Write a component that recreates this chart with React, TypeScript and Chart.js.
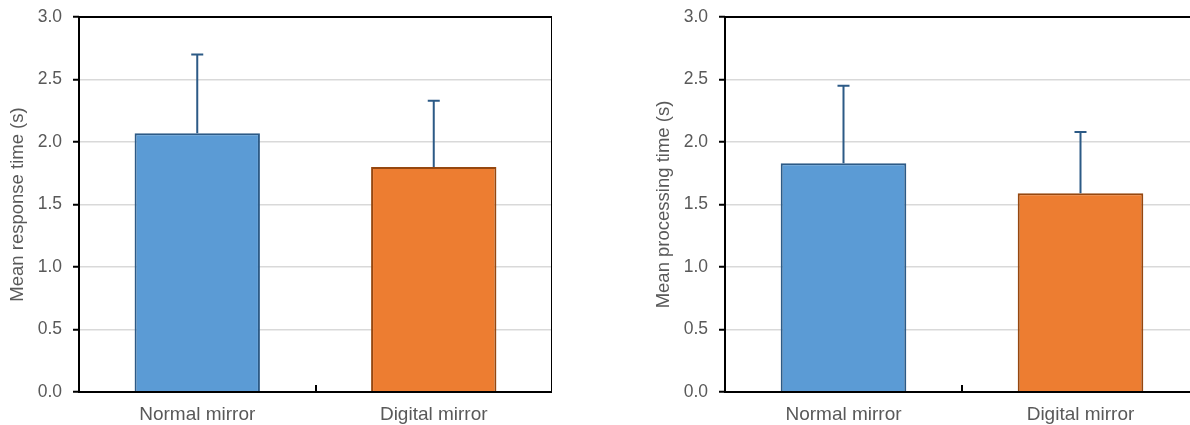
import React, { useEffect, useRef } from 'react';
import { Chart, registerables } from 'chart.js';

Chart.register(...registerables);

const categories = ['Normal mirror', 'Digital mirror'];
const responseMeans = [2.07, 1.8];
const responseErrors = [0.63, 0.53];
const processingMeans = [1.83, 1.59];
const processingErrors = [0.62, 0.49];
const yMin = 0;
const yMax = 3;
const yStep = 0.5;
const barColors = ['#5b9bd5', '#ed7d31'];
const barBorders = ['#2c5a86', '#96470f'];
const errorColor = '#2c5a86';
const textColor = '#595959';
const fontFamily = '"Liberation Sans", Arial, Helvetica, sans-serif';

const errorBarPlugin = {
  id: 'errorBars',
  afterDatasetsDraw(chart: any) {
    const errs: number[] = chart.options.plugins.errorBars?.errors || [];
    const meta = chart.getDatasetMeta(0);
    const ys = chart.scales.y;
    const ctx = chart.ctx;
    ctx.save();
    ctx.strokeStyle = errorColor;
    ctx.lineWidth = 2;
    meta.data.forEach((el: any, i: number) => {
      const v = chart.data.datasets[0].data[i] as number;
      const top = ys.getPixelForValue(v + errs[i]);
      const base = ys.getPixelForValue(v);
      ctx.beginPath();
      ctx.moveTo(el.x, base);
      ctx.lineTo(el.x, top);
      ctx.moveTo(el.x - 6, top);
      ctx.lineTo(el.x + 6, top);
      ctx.stroke();
    });
    ctx.restore();
  },
};

const framePlugin = {
  id: 'frame',
  afterDraw(chart: any) {
    const { ctx, chartArea } = chart;
    const meta = chart.getDatasetMeta(0);
    ctx.save();
    ctx.strokeStyle = '#000';
    ctx.lineWidth = 2;
    ctx.strokeRect(chartArea.left, chartArea.top, chartArea.right - chartArea.left, chartArea.bottom - chartArea.top);
    ctx.beginPath();
    for (let i = 0; i < meta.data.length - 1; i++) {
      const x = Math.round((meta.data[i].x + meta.data[i + 1].x) / 2);
      ctx.moveTo(x, chartArea.bottom);
      ctx.lineTo(x, chartArea.bottom - 7);
    }
    ctx.stroke();
    ctx.restore();
  },
};

function Panel(props: { means: number[]; errors: number[]; title: string; left: number; width: number }) {
  const ref = useRef<HTMLCanvasElement>(null);
  useEffect(() => {
    if (!ref.current) return;
    const chart = new Chart(ref.current, {
      type: 'bar',
      data: {
        labels: categories,
        datasets: [
          {
            data: props.means,
            backgroundColor: barColors,
            borderColor: barBorders,
            borderWidth: 2,
            categoryPercentage: 1,
            barPercentage: 0.53,
          },
        ],
      },
      options: {
        animation: false,
        responsive: false,
        maintainAspectRatio: false,
        layout: { padding: { top: 17, left: 0, right: 0, bottom: 0 } },
        plugins: {
          legend: { display: false },
          tooltip: { enabled: false },
          errorBars: { errors: props.errors },
        } as any,
        scales: {
          x: {
            grid: { display: false, drawTicks: false },
            border: { display: false },
            ticks: { color: textColor, font: { family: fontFamily, size: 19 }, padding: 11 },
            afterFit: (axis: any) => {
              axis.height = 33;
              axis.paddingLeft = 0;
              axis.paddingRight = 0;
            },
          },
          y: {
            min: yMin,
            max: yMax,
            grid: { color: '#d9d9d9', lineWidth: 1.5, tickColor: '#000', tickWidth: 2, tickLength: 6 },
            border: { display: false },
            ticks: {
              stepSize: yStep,
              color: textColor,
              font: { family: fontFamily, size: 17.5 },
              padding: 11,
              callback: (v: any) => Number(v).toFixed(1),
            },
            title: {
              display: true,
              text: props.title,
              color: textColor,
              font: { family: fontFamily, size: 18.5 },
              padding: { top: 7, bottom: 0 },
            },
            afterFit: (axis: any) => {
              axis.width = 79;
              axis.paddingTop = 0;
              axis.paddingBottom = 0;
            },
          },
        },
      },
      plugins: [errorBarPlugin, framePlugin],
    });
    return () => chart.destroy();
  }, []);
  return (
    <canvas
      ref={ref}
      width={props.width}
      height={425}
      style={{ position: 'absolute', left: props.left, top: 0, width: props.width, height: 425, display: 'block' }}
    />
  );
}

export default function App() {
  return (
    <div style={{ position: 'fixed', left: 0, top: 0, width: 1190, height: 425, overflow: 'hidden', background: '#fff' }}>
      <Panel means={responseMeans} errors={responseErrors} title="Mean response time (s)" left={0} width={552} />
      <Panel means={processingMeans} errors={processingErrors} title="Mean processing time (s)" left={646} width={553} />
    </div>
  );
}
